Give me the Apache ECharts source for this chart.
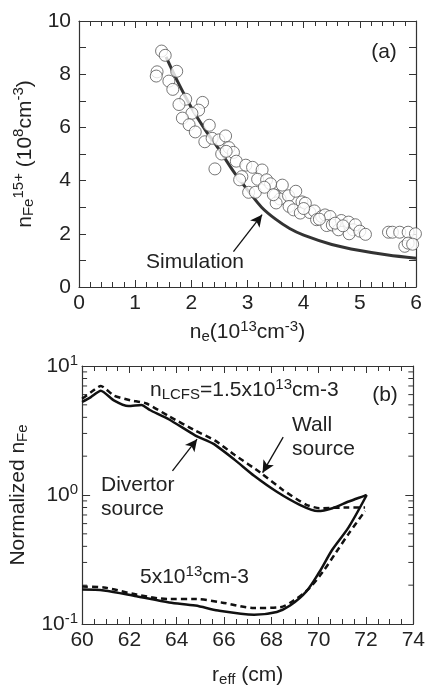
<!DOCTYPE html>
<html><head><meta charset="utf-8">
<script src="https://cdn.jsdelivr.net/npm/echarts@6/dist/echarts.min.js"></script>
<style>html,body{margin:0;padding:0;background:#fff}#c{width:428px;height:688px}</style>
</head><body><div id="c"></div>
<script>
// ---- Panel (a) data ----
const neMeasured = [1.47,1.535,1.39,1.375,1.74,1.60,1.67,1.90,1.78,2.20,2.13,2.01,1.84,1.96,2.07,2.32,2.24,2.37,2.49,2.61,2.54,2.67,2.75,2.80,2.42,2.97,3.09,2.90,2.86,3.26,3.18,3.34,3.02,3.14,3.41,3.62,3.49,3.58,3.51,3.73,3.86,3.74,3.82,3.94,3.97,4.03,4.11,4.19,4.23,4.32,4.38,4.47,4.41,4.51,4.62,4.67,4.80,4.88,4.81,4.92,5.00,5.10,5.51,5.58,5.71,5.86,5.99,5.80,5.86,5.94,3.46,3.30,4.28,4.56,4.00,4.70,2.62];
const nFeMeasured = [8.87,8.71,8.09,7.93,8.11,7.74,7.43,7.06,6.86,6.94,6.65,6.53,6.35,6.10,5.83,6.08,5.46,5.59,5.53,5.68,5.00,5.24,5.06,4.73,4.44,4.58,4.50,4.15,4.03,4.40,4.05,4.03,3.56,3.56,3.88,3.83,3.45,3.31,3.16,3.43,3.60,3.03,2.90,2.78,3.20,3.15,2.80,2.86,2.53,2.65,2.71,2.65,2.31,2.33,2.15,2.50,2.44,2.15,2.00,2.34,2.10,1.98,2.06,2.06,2.06,2.06,2.00,1.53,1.65,1.61,3.47,3.75,2.55,2.40,2.95,2.30,5.10];
const neSim = [1.55,1.75,2.0,2.25,2.5,2.75,3.0,3.25,3.5,3.75,4.0,4.5,5.0,5.5,6.0];
const nFeSim = [8.65,7.75,6.75,5.9,5.15,4.35,3.65,3.0,2.55,2.2,1.95,1.6,1.37,1.2,1.08];
const topXTicks = [0,1,2,3,4,5,6];
const topYTicks = [0,2,4,6,8,10];

// ---- Panel (b) data ----
const divHighR = [60,60.37,60.79,61.34,61.96,62.51,62.86,63.68,64.79,65.54,66.44,67.27,68.23,69.2,69.96,70.58,71.27,72.03];
const divHighN = [5.26,5.74,6.43,5.42,4.89,4.98,4.56,3.85,2.89,2.50,1.88,1.41,1.06,0.84,0.75,0.79,0.89,1.0];
const wallHighR = [60,60.37,60.79,61.34,62.03,62.72,63.68,64.79,65.61,66.44,67.54,68.5,69.48,70.03,71.27,71.96];
const wallHighN = [5.57,6.25,7.01,5.91,5.42,5.12,4.07,3.15,2.65,2.05,1.49,1.09,0.84,0.79,0.80,0.80];
const divLowR = [60,60.92,62.3,63.68,64.79,65.75,67.27,68.23,68.79,69.48,70.03,70.58,71.27,72.03];
const divLowN = [0.185,0.182,0.164,0.147,0.139,0.127,0.118,0.124,0.139,0.179,0.253,0.378,0.564,1.0];
const wallLowR = [60,60.92,62.3,63.68,64.79,65.89,67.27,68.37,68.92,69.61,70.17,70.72,71.27,71.96];
const wallLowN = [0.195,0.192,0.169,0.156,0.156,0.147,0.133,0.135,0.151,0.190,0.253,0.356,0.502,0.751];
const botXTicks = [60,62,64,66,68,70,72,74];
const botYTicks = [0.1,1,10];
const logMinorTicks = [0.2,0.3,0.4,0.5,0.6,0.7,0.8,0.9,2,3,4,5,6,7,8,9];

const FONT = '"Liberation Sans", Arial, sans-serif';
const INK = '#222';
const FS = 21;
const richBase = {
  n: {fontSize: FS, fontFamily: FONT, color: INK},
  sup: {fontSize: 15, fontFamily: FONT, color: INK, padding: [0,0,11,0]},
  sub: {fontSize: 15, fontFamily: FONT, color: INK, padding: [9,0,0,0]}
};

function zipPts(a, b) { return a.map((v, i) => [v, b[i]]); }

const axisLineStyle = {show: true, lineStyle: {color: '#333', width: 1.2}};
function xAx(grid, min, max, interval, minorSplit, pos, showLabel, name) {
  return {
    type: 'value', gridIndex: grid, min, max, interval, position: pos,
    axisLine: Object.assign({onZero: false}, axisLineStyle),
    axisTick: {show: true, inside: true, length: 7, lineStyle: {color: '#333'}},
    minorTick: {show: true, splitNumber: minorSplit, length: 5, lineStyle: {color: '#333'}},
    splitLine: {show: false}, minorSplitLine: {show: false},
    axisLabel: {show: showLabel, fontSize: FS, fontFamily: FONT, color: INK, margin: 6},
    name: name ? name.text : '', nameLocation: 'middle', nameGap: name ? name.gap : 0,
    nameTextStyle: name ? {rich: richBase, fontFamily: FONT} : {}
  };
}

const option = {
  animation: false,
  backgroundColor: '#fff',
  grid: [
    {left: 79, top: 21, width: 337, height: 266},
    {left: 78, top: 366, width: 338, height: 268}
  ],
  xAxis: [
    xAx(0, 0, 6, 1, 5, 'bottom', true, {text: '{n|n}{sub|e}{n|(10}{sup|13}{n|cm}{sup|-3}{n|)}', gap: 32}),
    xAx(0, 0, 6, 1, 5, 'top', false, null),
    xAx(1, 60, 74, 2, 4, 'bottom', true, {text: '{n|r}{sub|eff}{n| (cm)}', gap: 39}),
    xAx(1, 60, 74, 2, 4, 'top', false, null)
  ],
  yAxis: [
    {
      type: 'value', gridIndex: 0, min: 0, max: 10, interval: 2, position: 'left',
      axisLine: Object.assign({onZero: false}, axisLineStyle),
      axisTick: {show: true, inside: true, length: 7, lineStyle: {color: '#333'}},
      minorTick: {show: true, splitNumber: 2, length: 7, lineStyle: {color: '#333'}},
      splitLine: {show: false},
      axisLabel: {fontSize: FS, fontFamily: FONT, color: INK, margin: 8},
      name: '{n|n}{sub|Fe}{sup|15+}{n| (10}{sup|8}{n|cm}{sup|-3}{n|)}',
      nameLocation: 'middle', nameGap: 36, nameRotate: 90,
      nameTextStyle: {rich: richBase, fontFamily: FONT}
    },
    {
      type: 'value', gridIndex: 0, min: 0, max: 10, interval: 2, position: 'right',
      axisLine: Object.assign({onZero: false}, axisLineStyle),
      axisTick: {show: true, inside: true, length: 7, lineStyle: {color: '#333'}},
      minorTick: {show: true, splitNumber: 2, length: 7, lineStyle: {color: '#333'}},
      splitLine: {show: false}, axisLabel: {show: false}
    },
    {
      type: 'log', logBase: 10, gridIndex: 1, min: 0.1, max: 10, position: 'left',
      axisLine: Object.assign({onZero: false}, axisLineStyle),
      axisTick: {show: true, inside: true, length: 8, lineStyle: {color: '#333'}},
      splitLine: {show: false},
      axisLabel: {
        fontSize: FS, fontFamily: FONT, color: INK, margin: 4,
        formatter: function (v) {
          const e = Math.round(Math.log10(v));
          return '{n|10}{sup|' + e + '}';
        },
        rich: richBase
      },
      name: '{n|Normalized n}{sub|Fe}',
      nameLocation: 'middle', nameGap: 45, nameRotate: 90,
      nameTextStyle: {rich: richBase, fontFamily: FONT, padding: [0, 0, 0, 0]}
    },
    {
      type: 'log', logBase: 10, gridIndex: 1, min: 0.1, max: 10, position: 'right',
      axisLine: Object.assign({onZero: false}, axisLineStyle),
      axisTick: {show: true, inside: true, length: 8, lineStyle: {color: '#333'}},
      splitLine: {show: false}, axisLabel: {show: false}
    }
  ],
  series: [
    {
      type: 'scatter', xAxisIndex: 0, yAxisIndex: 0, z: 3,
      data: zipPts(neMeasured, nFeMeasured),
      symbol: 'circle', symbolSize: 12,
      itemStyle: {color: '#fff', borderColor: '#555', borderWidth: 1}
    },
    {
      type: 'line', xAxisIndex: 0, yAxisIndex: 0, z: 2,
      data: zipPts(neSim, nFeSim), smooth: 0.3, showSymbol: false,
      lineStyle: {color: '#333', width: 3},
      markLine: {
        silent: true, symbol: ['none', 'arrow'], symbolSize: [9, 12],
        label: {show: false},
        lineStyle: {color: '#111', width: 1.3, type: 'solid'},
        data: [[{coord: [2.75, 1.33]}, {coord: [3.26, 2.72]}]]
      }
    },
    {
      type: 'line', xAxisIndex: 2, yAxisIndex: 2,
      data: zipPts(divHighR, divHighN), smooth: 0.2, showSymbol: false,
      lineStyle: {color: '#111', width: 2.5},
      markLine: {
        silent: true, symbol: ['none', 'arrow'], symbolSize: [9, 12],
        label: {show: false},
        lineStyle: {color: '#111', width: 1.3, type: 'solid'},
        data: [[{coord: [63.82, 1.54]}, {coord: [64.86, 2.71]}],
               [{coord: [68.5, 2.81]}, {coord: [67.63, 1.49]}]]
      }
    },
    {
      type: 'line', xAxisIndex: 2, yAxisIndex: 2,
      data: zipPts(wallHighR, wallHighN), smooth: 0.2, showSymbol: false,
      lineStyle: {color: '#111', width: 2.5, type: [6, 4]}
    },
    {
      type: 'line', xAxisIndex: 2, yAxisIndex: 2,
      data: zipPts(divLowR, divLowN), smooth: 0.3, showSymbol: false,
      lineStyle: {color: '#111', width: 2.5}
    },
    {
      type: 'line', xAxisIndex: 2, yAxisIndex: 2,
      data: zipPts(wallLowR, wallLowN), smooth: 0.3, showSymbol: false,
      lineStyle: {color: '#111', width: 2.5, type: [6, 4]}
    },
    {
      type: 'custom', xAxisIndex: 2, yAxisIndex: 2, silent: true,
      data: logMinorTicks.map(v => [60, v]),
      renderItem: function (params, api) {
        const v = api.value(1);
        const pL = api.coord([60, v]);
        const pR = api.coord([74, v]);
        const st = {stroke: '#333', lineWidth: 1};
        return {type: 'group', children: [
          {type: 'line', shape: {x1: pL[0], y1: pL[1], x2: pL[0] + 5, y2: pL[1]}, style: st},
          {type: 'line', shape: {x1: pR[0] - 5, y1: pR[1], x2: pR[0], y2: pR[1]}, style: st}
        ]};
      }
    }
  ],
  graphic: [
    {type: 'text', x: 384, y: 52, style: {text: '(a)', font: FS + 'px ' + FONT, fill: INK, align: 'center', verticalAlign: 'middle'}},
    {type: 'text', x: 195, y: 262, style: {text: 'Simulation', font: FS + 'px ' + FONT, fill: INK, align: 'center', verticalAlign: 'middle'}},
    {type: 'text', x: 385, y: 395, style: {text: '(b)', font: FS + 'px ' + FONT, fill: INK, align: 'center', verticalAlign: 'middle'}},
    {type: 'text', x: 150, y: 390, style: {text: '{n|n}{sub|LCFS}{n|=1.5x10}{sup|13}{n|cm-3}', rich: richBase, font: FS + 'px ' + FONT, fill: INK, align: 'left', verticalAlign: 'middle'}},
    {type: 'text', x: 292, y: 437, style: {text: 'Wall\nsource', font: FS + 'px ' + FONT, fill: INK, align: 'left', verticalAlign: 'middle', lineHeight: 24}},
    {type: 'text', x: 101, y: 497, style: {text: 'Divertor\nsource', font: FS + 'px ' + FONT, fill: INK, align: 'left', verticalAlign: 'middle', lineHeight: 24}},
    {type: 'text', x: 140, y: 577, style: {text: '{n|5x10}{sup|13}{n|cm-3}', rich: richBase, font: FS + 'px ' + FONT, fill: INK, align: 'left', verticalAlign: 'middle'}}
  ]
};

const chart = echarts.init(document.getElementById('c'), null, {renderer: 'canvas'});
chart.setOption(option);
</script>
</body></html>
